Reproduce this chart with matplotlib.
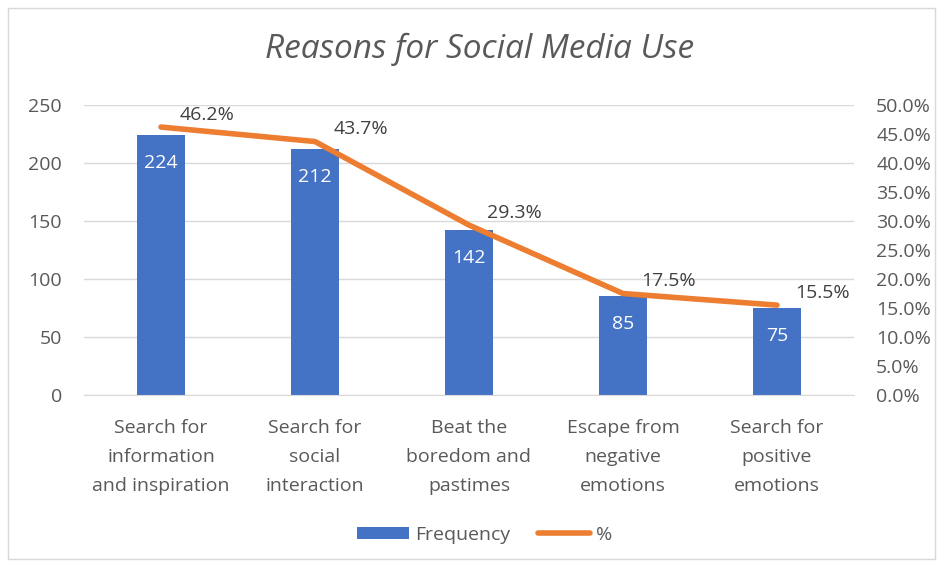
import matplotlib.pyplot as plt
from matplotlib.patches import Rectangle

categories = ["Search for\ninformation\nand inspiration", "Search for\nsocial\ninteraction",
              "Beat the\nboredom and\npastimes", "Escape from\nnegative\nemotions",
              "Search for\npositive\nemotions"]
frequency = [224, 212, 142, 85, 75]
percent = [46.2, 43.7, 29.3, 17.5, 15.5]

plt.rcParams['font.family'] = ['Open Sans', 'DejaVu Sans']
grey = "#595959"

fig = plt.figure(figsize=(9.41, 5.66), dpi=100)
fig.patches.append(Rectangle((0.008, 0.012), 0.986, 0.973, transform=fig.transFigure,
                             fill=False, edgecolor="#d9d9d9", linewidth=1))
ax = fig.add_axes([0.0893, 0.302, 0.8182, 0.5125])
ax2 = ax.twinx()

x = list(range(len(categories)))
ax.bar(x, frequency, width=0.31, color="#4472C4", label="Frequency", zorder=2)
for xi, v in zip(x, frequency):
    ax.text(xi, v - 16, str(v), ha="center", va="top", color="white", fontsize=14)

ax2.plot(x, percent, color="#ED7D31", linewidth=4, solid_capstyle="round",
         label="%", zorder=3)
for xi, p in zip(x, percent):
    ax2.text(xi + 0.12, p + 0.6, f"{p:.1f}%", ha="left", va="bottom", color="#404040", fontsize=14)

ax.set_xlim(-0.5, 4.5)
ax.set_ylim(0, 250)
ax.set_yticks(range(0, 251, 50))
ax2.set_ylim(0, 50)
ax2.set_yticks([i * 5 for i in range(11)])
ax2.set_yticklabels([f"{i * 5:.1f}%" for i in range(11)])
ax.set_xticks(x)
ax.set_xticklabels(categories, linespacing=1.78)

ax.grid(axis="y", color="#d9d9d9", linewidth=1, zorder=0)
ax.set_axisbelow(True)
for a in (ax, ax2):
    for s in a.spines.values():
        s.set_visible(False)
    a.tick_params(length=0, labelsize=14, colors=grey)
ax.spines["bottom"].set_visible(True)
ax.spines["bottom"].set_color("#d9d9d9")
ax.tick_params(axis="y", pad=16)
ax.tick_params(axis="x", pad=17)
ax2.tick_params(axis="y", pad=16)
ax2.set_zorder(ax.get_zorder() + 1)
ax.patch.set_visible(False)
ax2.patch.set_visible(False)

fig.text(0.51, 0.912, "Reasons for Social Media Use", ha="center", va="center",
         fontsize=24, style="italic", color=grey)

h1, l1 = ax.get_legend_handles_labels()
h2, l2 = ax2.get_legend_handles_labels()
fig.legend(h1 + h2, l1 + l2, loc="center", bbox_to_anchor=(0.515, 0.055), ncol=2,
           frameon=False, fontsize=14, labelcolor=grey, handlelength=2.7,
           handleheight=0.6, handletextpad=0.3, columnspacing=1.4)

fig.savefig("out.png", dpi=100)
